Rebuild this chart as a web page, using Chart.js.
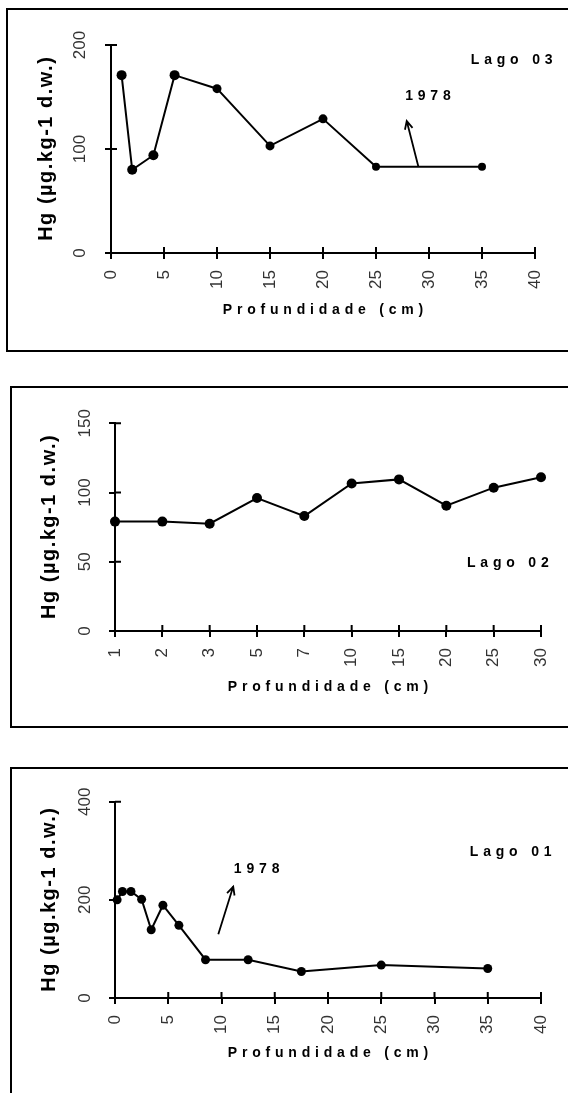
<!DOCTYPE html>
<html>
<head>
<meta charset="utf-8">
<script src="https://cdn.jsdelivr.net/npm/chart.js@4.4.1/dist/chart.umd.min.js"></script>
<style>
html,body{margin:0;padding:0;background:#fff;}
body{position:relative;width:568px;height:1093px;overflow:hidden;}
.box{position:absolute;border:2px solid #000;box-sizing:border-box;}
canvas{position:absolute;left:0;}
</style>
</head>
<body>
<div class="box" style="left:6px;top:8px;width:640px;height:344px"></div>
<div class="box" style="left:10px;top:386px;width:640px;height:342px"></div>
<div class="box" style="left:10px;top:767px;width:640px;height:400px"></div>
<canvas id="c1" width="568" height="319" style="top:0px"></canvas>
<canvas id="c2" width="568" height="336" style="top:360px"></canvas>
<canvas id="c3" width="568" height="332" style="top:730px"></canvas>
<script>
// ---------------- data ----------------
const lago03Depth = [1, 2, 4, 6, 10, 15, 20, 25, 35];
const lago03Hg    = [171, 80, 94, 171, 158, 103, 129, 83, 83];

const lago02Depth = ['1', '2', '3', '5', '7', '10', '15', '20', '25', '30'];
const lago02Hg    = [79, 79, 77.5, 96, 83, 106.5, 109.5, 90.5, 103.5, 111];

const lago01Depth = [0.2, 0.7, 1.5, 2.5, 3.4, 4.5, 6, 8.5, 12.5, 17.5, 25, 35];
const lago01Hg    = [200, 217, 217, 201, 139, 189, 148, 78, 78, 54, 67, 60];

const depthTicks   = [0, 5, 10, 15, 20, 25, 30, 35, 40];
const lago03YTicks = [0, 100, 200];
const lago02YTicks = [0, 50, 100, 150];
const lago01YTicks = [0, 200, 400];

const yTitle = 'Hg (µg.kg-1 d.w.)';
const xTitle = 'Profundidade (cm)';
// --------------------------------------

const FONT = "'Liberation Sans', Arial, Helvetica, sans-serif";
const NOTE_SIZE = 14;
const NOTE_SPACING = 4.8;

function drawArrow(ctx, x0, y0, x1, y1) {
  const ang = Math.atan2(y1 - y0, x1 - x0);
  const len = 9, spr = 0.45;
  ctx.beginPath();
  ctx.moveTo(x0, y0); ctx.lineTo(x1, y1);
  ctx.moveTo(x1 - len * Math.cos(ang - spr), y1 - len * Math.sin(ang - spr));
  ctx.lineTo(x1, y1);
  ctx.lineTo(x1 - len * Math.cos(ang + spr), y1 - len * Math.sin(ang + spr));
  ctx.stroke();
}

function buildPanel(p) {
  const canvas = document.getElementById(p.canvas);
  const H = canvas.height;
  const axisGrid = {display: true, drawOnChartArea: false, drawTicks: true, tickLength: 6, color: '#000', lineWidth: 2};
  const axisBorder = {display: true, color: '#000', width: 2};
  const tickFont = {family: FONT, size: 17};
  const yTitleSize = 20;

  const xScale = p.category
    ? {type: 'category', offset: false}
    : {type: 'linear', min: p.xMin, max: p.xMax,
       afterBuildTicks: s => { s.ticks = p.xTicks.map(v => ({value: v})); }};
  Object.assign(xScale, {
    position: 'bottom',
    grid: axisGrid,
    border: axisBorder,
    ticks: {autoSkip: false, minRotation: 90, maxRotation: 90, padding: 11, color: '#333', font: tickFont},
    title: {display: true, text: xTitle, color: '#000', font: {family: FONT, size: NOTE_SIZE, weight: 'bold'}, padding: 0},
    afterFit: s => { s.height = H - (p.B - p.T); s.paddingLeft = 0; s.paddingRight = 0; }
  });

  const yScale = {
    type: 'linear', position: 'left', min: 0, max: p.yMax,
    afterBuildTicks: s => { s.ticks = p.yTicks.map(v => ({value: v})); },
    grid: axisGrid,
    border: axisBorder,
    ticks: {minRotation: 90, maxRotation: 90, crossAlign: 'center', padding: p.yTickPad, color: '#333', font: tickFont},
    title: {display: true, text: yTitle, color: '#000', font: {family: FONT, size: yTitleSize, weight: 'bold'},
            padding: {top: p.yTitleX - yTitleSize * 0.6, bottom: 0}},
    afterFit: s => { s.width = p.L; s.paddingTop = 0; s.paddingBottom = 0; }
  };

  const titleSpacing = {x: NOTE_SPACING, y: 1.5};
  const spacedTitles = {
    id: 'spacedTitles',
    beforeDraw(chart) {
      for (const id in titleSpacing) {
        const s = chart.scales[id];
        if (!s || s.__spaced) continue;
        const sp = titleSpacing[id];
        const orig = s.drawTitle.bind(s);
        s.drawTitle = function () {
          const c = this.ctx;
          c.save();
          c.letterSpacing = sp + 'px';
          if (this.isHorizontal()) c.translate(sp / 2, 0); else c.translate(0, -sp / 2);
          orig();
          c.restore();
        };
        s.__spaced = true;
      }
    }
  };

  const crossTicks = {
    id: 'crossTicks',
    beforeDatasetsDraw(chart) {
      const {ctx, chartArea: a, scales: {x, y}} = chart;
      ctx.save();
      ctx.strokeStyle = '#000';
      ctx.lineWidth = 2;
      ctx.beginPath();
      x.ticks.forEach((t, i) => { const px = x.getPixelForTick(i); ctx.moveTo(px, a.bottom); ctx.lineTo(px, a.bottom - 6); });
      y.ticks.forEach((t, i) => { const py = y.getPixelForTick(i); ctx.moveTo(a.left, py); ctx.lineTo(a.left + 6, py); });
      ctx.stroke();
      ctx.restore();
    }
  };

  const notes = {
    id: 'notes',
    afterDatasetsDraw(chart) {
      const {ctx, scales: {x, y}} = chart;
      ctx.save();
      ctx.strokeStyle = '#000';
      ctx.fillStyle = '#000';
      ctx.lineWidth = 1.8;
      (p.arrows || []).forEach(a => {
        drawArrow(ctx, x.getPixelForValue(a.from[0]), y.getPixelForValue(a.from[1]),
                       x.getPixelForValue(a.to[0]), y.getPixelForValue(a.to[1]));
      });
      ctx.font = 'bold ' + NOTE_SIZE + 'px ' + FONT;
      ctx.letterSpacing = NOTE_SPACING + 'px';
      ctx.textAlign = 'center';
      ctx.textBaseline = 'middle';
      (p.texts || []).forEach(t => {
        ctx.fillText(t.text, x.getPixelForValue(t.at[0]) + NOTE_SPACING / 2, y.getPixelForValue(t.at[1]));
      });
      ctx.restore();
    }
  };

  const data = p.category
    ? {labels: p.labels, datasets: [{data: p.values}]}
    : {datasets: [{data: p.xs.map((xv, i) => ({x: xv, y: p.ys[i]}))}]};
  Object.assign(data.datasets[0], {
    borderColor: '#000', backgroundColor: '#000', borderWidth: 2,
    pointRadius: p.pointRadius, pointBackgroundColor: '#000', pointBorderWidth: 0,
    tension: 0, fill: false, clip: false, showLine: true
  });

  return new Chart(canvas, {
    type: 'line',
    data,
    options: {
      responsive: false,
      animation: false,
      devicePixelRatio: 1,
      layout: {padding: {left: 0, top: p.A - p.T, right: 568 - p.R, bottom: 0}},
      plugins: {legend: {display: false}, tooltip: {enabled: false}},
      scales: {x: xScale, y: yScale}
    },
    plugins: [spacedTitles, crossTicks, notes]
  });
}

// Lago 03
buildPanel({
  canvas: 'c1', T: 0, A: 45, B: 253, L: 111, R: 535,
  yTitleX: 46, yTickPad: 11,
  xs: lago03Depth, ys: lago03Hg, xMin: 0, xMax: 40, xTicks: depthTicks,
  yMax: 200, yTicks: lago03YTicks,
  pointRadius: [5, 5, 5, 5, 4.5, 4.5, 4.5, 4, 4],
  arrows: [{from: [29, 83], to: [27.9, 127]}],
  texts: [{text: 'Lago 03', at: [37.8, 185]}, {text: '1978', at: [29.9, 151]}]
});

// Lago 02
buildPanel({
  canvas: 'c2', T: 360, A: 423.3, B: 631, L: 115, R: 541,
  yTitleX: 49.5, yTickPad: 9.5,
  category: true, labels: lago02Depth, values: lago02Hg,
  yMax: 150, yTicks: lago02YTicks,
  pointRadius: 5,
  texts: [{text: 'Lago 02', at: [8.3, 49]}]
});

// Lago 01
buildPanel({
  canvas: 'c3', T: 730, A: 801.7, B: 998, L: 115, R: 541,
  yTitleX: 49.5, yTickPad: 9.5,
  xs: lago01Depth, ys: lago01Hg, xMin: 0, xMax: 40, xTicks: depthTicks,
  yMax: 400, yTicks: lago01YTicks,
  pointRadius: 4.5,
  arrows: [{from: [9.7, 130], to: [11.1, 227]}],
  texts: [{text: 'Lago 01', at: [37.15, 298]}, {text: '1978', at: [13.3, 262]}]
});
</script>
</body>
</html>
